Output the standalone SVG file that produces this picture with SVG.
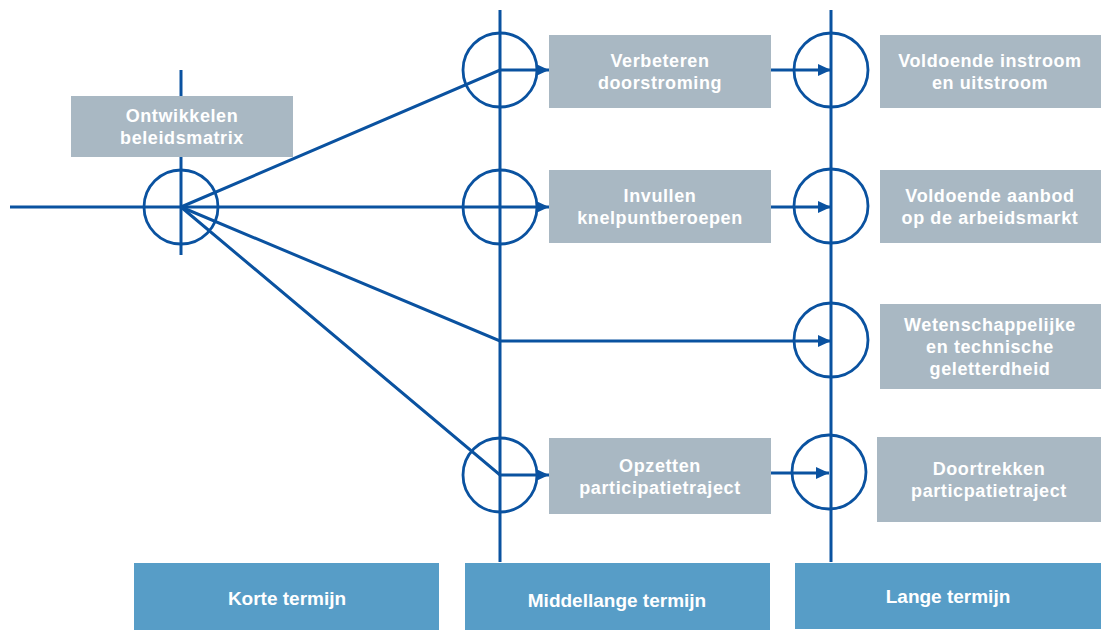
<svg xmlns="http://www.w3.org/2000/svg" width="1101" height="630" viewBox="0 0 1101 630">
<style>
.gbox{fill:#a9b8c3}
.bbox{fill:#579dc7}
.t{font-family:"Liberation Sans",Arial,sans-serif;font-weight:bold;fill:#fff;text-anchor:middle;font-size:18px;letter-spacing:0.6px}
.tb{font-family:"Liberation Sans",Arial,sans-serif;font-weight:bold;fill:#fff;text-anchor:middle;font-size:19px}
.ln{stroke:#0a52a0;stroke-width:3;fill:none}
.c{stroke:#0a52a0;stroke-width:2.8;fill:none}
</style>
<defs>
<marker id="ah" markerUnits="userSpaceOnUse" markerWidth="14" markerHeight="12" refX="13" refY="6" orient="auto">
<path d="M0,0 L13,6 L0,12 Z" fill="#0a52a0"/>
</marker>
</defs>
<rect width="1101" height="630" fill="#fff"/>
<g id="connectors">
<line class="ln" x1="181" y1="70" x2="181" y2="255"/>
<line class="ln" x1="500" y1="10" x2="500" y2="562"/>
<line class="ln" x1="831" y1="10" x2="831" y2="562"/>
<line class="ln" x1="10" y1="207" x2="549" y2="207" marker-end="url(#ah)"/>
<polyline class="ln" points="181,207 500,70 549,70" marker-end="url(#ah)"/>
<polyline class="ln" points="181,207 500,341 831,341" marker-end="url(#ah)"/>
<polyline class="ln" points="181,207 500,475 549,475" marker-end="url(#ah)"/>
<line class="ln" x1="771" y1="70" x2="831" y2="70" marker-end="url(#ah)"/>
<line class="ln" x1="771" y1="207" x2="831" y2="207" marker-end="url(#ah)"/>
<line class="ln" x1="767" y1="473" x2="829" y2="473" marker-end="url(#ah)"/>
<circle class="c" cx="181" cy="207" r="37"/>
<circle class="c" cx="500" cy="70" r="37"/>
<circle class="c" cx="500" cy="207" r="37"/>
<circle class="c" cx="500" cy="475" r="37"/>
<circle class="c" cx="831" cy="70" r="37"/>
<circle class="c" cx="831" cy="206" r="37"/>
<circle class="c" cx="831" cy="340" r="37"/>
<circle class="c" cx="829" cy="472" r="37"/>
</g>
<g id="n-ontwikkelen">
<rect class="gbox" x="71" y="96" width="222" height="61"/>
<text class="t" x="182" y="122">Ontwikkelen</text>
<text class="t" x="182" y="144">beleidsmatrix</text>
</g>
<g id="n-verbeteren">
<rect class="gbox" x="549" y="35" width="222" height="73"/>
<text class="t" x="660" y="67">Verbeteren</text>
<text class="t" x="660" y="89">doorstroming</text>
</g>
<g id="n-invullen">
<rect class="gbox" x="549" y="170" width="222" height="73"/>
<text class="t" x="660" y="202">Invullen</text>
<text class="t" x="660" y="224">knelpuntberoepen</text>
</g>
<g id="n-opzetten">
<rect class="gbox" x="549" y="438" width="222" height="76"/>
<text class="t" x="660" y="472">Opzetten</text>
<text class="t" x="660" y="494">participatietraject</text>
</g>
<g id="n-instroom">
<rect class="gbox" x="880" y="35" width="221" height="73"/>
<text class="t" x="990" y="67">Voldoende instroom</text>
<text class="t" x="990" y="89">en uitstroom</text>
</g>
<g id="n-aanbod">
<rect class="gbox" x="880" y="170" width="221" height="73"/>
<text class="t" x="990" y="202">Voldoende aanbod</text>
<text class="t" x="990" y="224">op de arbeidsmarkt</text>
</g>
<g id="n-wetenschappelijke">
<rect class="gbox" x="880" y="304" width="221" height="85"/>
<text class="t" x="990" y="331">Wetenschappelijke</text>
<text class="t" x="990" y="353">en technische</text>
<text class="t" x="990" y="375">geletterdheid</text>
</g>
<g id="n-doortrekken">
<rect class="gbox" x="877" y="437" width="224" height="85"/>
<text class="t" x="989" y="475">Doortrekken</text>
<text class="t" x="989" y="497">particpatietraject</text>
</g>
<g id="n-korte">
<rect class="bbox" x="134" y="563" width="305" height="67"/>
<text class="tb" x="287" y="605">Korte termijn</text>
</g>
<g id="n-middellange">
<rect class="bbox" x="465" y="563" width="305" height="67"/>
<text class="tb" x="617" y="607">Middellange termijn</text>
</g>
<g id="n-lange">
<rect class="bbox" x="795" y="563" width="306" height="66"/>
<text class="tb" x="948" y="603">Lange termijn</text>
</g>
</svg>
